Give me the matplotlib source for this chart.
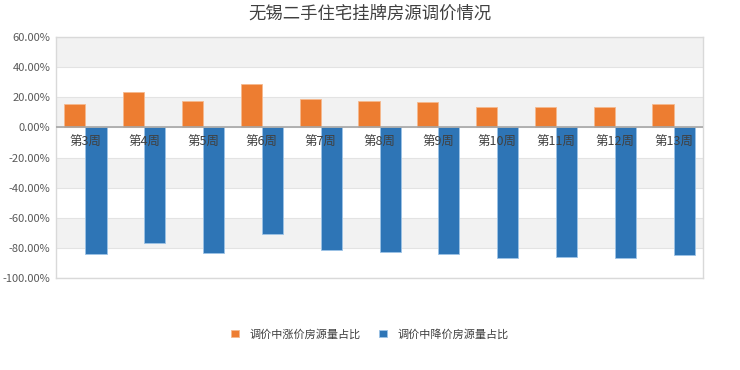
import matplotlib.pyplot as plt
import numpy as np

plt.rcParams['font.family'] = ['Noto Sans CJK SC', 'DejaVu Sans']

# data (percent)
weeks = ['第3周', '第4周', '第5周', '第6周', '第7周', '第8周',
         '第9周', '第10周', '第11周', '第12周', '第13周']
up_share = [15.7, 23.4, 17.5, 29.0, 18.6, 17.5, 16.8, 13.7, 13.7, 13.7, 15.7]
down_share = [-84.3, -76.6, -83.2, -71.0, -81.5, -82.6, -83.9, -86.8, -86.1, -86.8, -84.6]
y_ticks = [60, 40, 20, 0, -20, -40, -60, -80, -100]

title = '无锡二手住宅挂牌房源调价情况'
up_label = '调价中涨价房源量占比'
down_label = '调价中降价房源量占比'

fig = plt.figure(figsize=(7.4, 3.7), dpi=100)
ax = fig.add_axes([0.0757, 0.2486, 0.8743, 0.6514])

x = np.arange(len(weeks))
w = 0.36

# alternating background bands
for lo in [40, 0, -40, -80]:
    ax.axhspan(lo, lo + 20, color='#f2f2f2', zorder=0, lw=0)
for t in y_ticks:
    ax.axhline(t, color='#e3e3e3', lw=0.8, zorder=0.5)

ax.bar(x - w / 2, up_share, w, color='#ED7D31', edgecolor='#f6b98e',
       linewidth=0.6, label=up_label, zorder=2)
ax.bar(x + w / 2, down_share, w, color='#2E75B6', edgecolor='#9dc3e6',
       linewidth=0.6, label=down_label, zorder=2)
ax.axhline(0, color='#a6a6a6', lw=1.2, zorder=3)

# category labels sit just under the zero line, drawn over the bars
for i, name in enumerate(weeks):
    ax.text(i, -10, name, ha='center', va='center', fontsize=9,
            color='#404040', zorder=4)

ax.set_xlim(-0.5, len(weeks) - 0.5)
ax.set_ylim(-100, 60)
ax.set_xticks([])
ax.set_yticks(y_ticks)
ax.set_yticklabels([f'{t:.2f}%' for t in y_ticks], fontsize=8, color='#595959')
ax.tick_params(axis='y', length=0, pad=4)
for s in ax.spines.values():
    s.set_color('#d9d9d9')
    s.set_linewidth(1.0)

fig.text(0.5, 0.962, title, ha='center', va='center', fontsize=12.5, color='#404040')
fig.legend(loc='center', bbox_to_anchor=(0.5, 0.097), ncol=2, frameon=False,
           fontsize=8, handlelength=0.7, handleheight=0.7, columnspacing=1.6,
           handletextpad=1.0, labelcolor='#404040')

fig.savefig('out.png', dpi=100)
